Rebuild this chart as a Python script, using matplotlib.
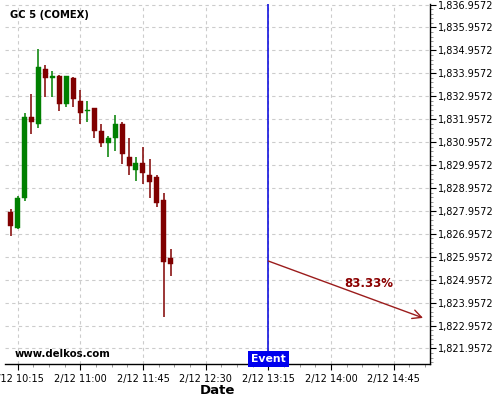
import pandas as pd
import matplotlib
matplotlib.use("Agg")
import matplotlib.pyplot as plt
import matplotlib.dates as mdates
from matplotlib.ticker import MultipleLocator, AutoMinorLocator, FuncFormatter, FixedLocator
import matplotlib.transforms as mtransforms

# 5 minute candles, GC 5 (COMEX), 12 Feb
times = ["10:10", "10:15", "10:20", "10:25", "10:30", "10:35", "10:40", "10:45",
         "10:50", "10:55", "11:00", "11:05", "11:10", "11:15", "11:20", "11:25",
         "11:30", "11:35", "11:40", "11:45", "11:50", "11:55", "12:00", "12:05"]
opens = [1827.91, 1827.21, 1828.52, 1832.05, 1831.75, 1834.14, 1833.75, 1833.84,
         1832.62, 1833.75, 1832.75, 1832.31, 1832.44, 1831.44, 1830.92, 1831.14,
         1831.75, 1830.31, 1829.74, 1830.05, 1829.52, 1829.43, 1828.43, 1825.90]
highs = [1828.04, 1828.61, 1832.23, 1833.05, 1835.02, 1834.32, 1834.06, 1833.88,
         1833.86, 1833.79, 1833.23, 1832.75, 1832.46, 1831.75, 1831.22, 1832.14,
         1831.83, 1831.14, 1830.31, 1830.74, 1830.22, 1829.52, 1828.74, 1826.29]
lows = [1826.86, 1827.17, 1828.39, 1831.31, 1831.57, 1832.92, 1832.92, 1832.31,
        1832.49, 1832.49, 1831.75, 1831.83, 1831.14, 1830.74, 1830.31, 1830.57,
        1830.00, 1829.52, 1829.26, 1829.13, 1828.52, 1828.13, 1823.33, 1825.12]
closes = [1827.30, 1828.52, 1832.05, 1831.83, 1834.23, 1833.75, 1833.84, 1832.62,
          1833.84, 1832.84, 1832.23, 1832.36, 1831.44, 1830.92, 1831.14, 1831.75,
          1830.44, 1829.91, 1830.05, 1829.61, 1829.22, 1828.30, 1825.73, 1825.64]

# x axis ticks
tick_times = ["10:15", "11:00", "11:45", "12:30", "13:15", "14:00", "14:45"]
tick_labels = ["2/12 10:15", "2/12 11:00", "2/12 11:45", "2/12 12:30",
               "2/12 13:15", "2/12 14:00", "2/12 14:45"]

# event / forecast
event_time = "13:15"
arrow_start = ("13:15", 1825.77)
arrow_end = ("15:06", 1823.29)
prob_label = "83.33%"
prob_pos = ("14:27", 1824.81)

x_range = ("10:06", "15:11")
y_range = (1821.28, 1836.98)

day = "2024-02-12 "


def t2n(t):
    return mdates.date2num(pd.Timestamp(day + t))


x = [t2n(t) for t in times]
width = 3.6 / 1440

fig = plt.figure(figsize=(5, 4), dpi=100)
ax = fig.add_axes([5 / 500, 36 / 400, 425 / 500, 360 / 400])

green = "#008000"
red = "#800000"
for xi, o, h, l, c in zip(x, opens, highs, lows, closes):
    col = green if c >= o else red
    ax.vlines(xi, l, h, color=col, linewidth=1.1, zorder=3)
    bottom = min(o, c)
    height = max(abs(c - o), 0.04)
    ax.bar(xi, height, width=width, bottom=bottom, color=col,
           edgecolor=col, linewidth=0.3, zorder=4)

# event line
ax.axvline(t2n(event_time), color="#0000dd", linewidth=1.1, zorder=5)

# forecast arrow
ax.annotate("", xy=(t2n(arrow_end[0]), arrow_end[1]),
            xytext=(t2n(arrow_start[0]), arrow_start[1]),
            arrowprops=dict(arrowstyle="->", color="#9b1c1c", lw=1.0,
                            mutation_scale=16, shrinkA=0, shrinkB=0), zorder=6)
ax.text(t2n(prob_pos[0]), prob_pos[1], prob_label, color="#8b0000",
        fontsize=8.5, fontweight="bold", ha="center", va="center")

# event label at bottom of line
trans = mtransforms.blended_transform_factory(ax.transData, ax.transAxes)
ax.text(t2n(event_time), 0.0, "Event", transform=trans, color="white",
        fontsize=7.8, fontweight="bold", ha="center", va="bottom", zorder=7,
        bbox=dict(boxstyle="square,pad=0.3", facecolor="#0000ee", edgecolor="none"))

ax.set_xlim(t2n(x_range[0]), t2n(x_range[1]))
ax.set_ylim(*y_range)

ax.xaxis.set_major_locator(FixedLocator([t2n(t) for t in tick_times]))
ax.set_xticklabels(tick_labels)
ax.xaxis.set_minor_locator(AutoMinorLocator(4))

ax.yaxis.tick_right()
ax.yaxis.set_major_locator(MultipleLocator(1.0, offset=0.9572))
ax.yaxis.set_minor_locator(AutoMinorLocator(5))
ax.yaxis.set_major_formatter(FuncFormatter(lambda v, p: f"{v:,.4f}"))

ax.tick_params(axis="both", which="major", labelsize=7, length=4, width=0.8)
ax.tick_params(axis="both", which="minor", length=2, width=0.6, color="#888888")
ax.tick_params(axis="x", pad=3)
ax.tick_params(axis="y", pad=1.5)

ax.spines["left"].set_visible(False)
ax.spines["top"].set_visible(False)
ax.spines["right"].set_linewidth(1.0)
ax.spines["bottom"].set_linewidth(1.0)

ax.grid(True, which="major", color="#cccccc", linestyle=(0, (3, 3)), linewidth=0.8)
ax.set_axisbelow(True)

fig.text(10 / 500, 1 - 15 / 400, "GC 5 (COMEX)", fontsize=7.2, fontweight="bold",
         ha="left", va="center")
fig.text(15 / 500, 1 - 354 / 400, "www.delkos.com", fontsize=7.3, fontweight="bold",
         ha="left", va="center")
fig.text(217 / 500, 1 - 390 / 400, "Date", fontsize=9.5, fontweight="bold",
         ha="center", va="center")

fig.savefig("out.png", dpi=100)
